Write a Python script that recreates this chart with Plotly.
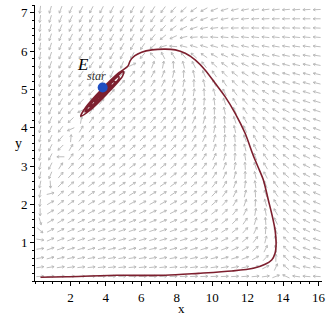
import numpy as np
import plotly.graph_objects as go

# ---------------- data ----------------
x_range = [0, 16.2]
y_range = [0, 7.2]
x_ticks = [2, 4, 6, 8, 10, 12, 14, 16]
y_ticks = [1, 2, 3, 4, 5, 6, 7]

# model behind the direction field (prey x, predator y)
prey_K, prey_a, prey_b = 14.0, 0.692, 1.0
pred_e, pred_A, pred_beta, pred_B = 0.07, 3.86, 0.5, 0.0

grid_nx, grid_ny = 28, 30

# trajectory
traj_x = [0.31, 1.81, 4.63, 7.35, 9.23, 11.11, 12.33, 12.99, 13.36, 13.55, 13.61, 13.55, 13.40, 13.17,
          12.89, 12.59, 12.31, 11.86, 11.30, 10.73, 10.17, 9.61, 9.04, 8.48, 7.92, 7.35, 6.60, 6.02,
          5.62, 5.38, 5.24,
          4.738, 3.763, 2.868, 2.580, 3.070, 4.045, 4.941,
          4.992, 4.614, 3.814, 3.070, 2.817, 3.194, 3.994, 4.738,
          4.721, 4.434, 3.839, 3.279, 3.087, 3.375, 3.969, 4.530,
          4.451, 4.259, 3.859, 3.487, 3.358, 3.549, 3.949, 4.321,
          4.214, 3.882, 3.594, 3.927, 3.904]
traj_y = [0.097, 0.112, 0.149, 0.149, 0.20, 0.261, 0.331, 0.436, 0.548, 0.723, 0.984, 1.331, 1.678, 2.113,
          2.635, 2.974, 3.287, 3.853, 4.375, 4.81, 5.16, 5.50, 5.77, 5.94, 6.03, 6.05, 6.03, 5.97,
          5.87, 5.75, 5.60,
          5.434, 5.001, 4.532, 4.300, 4.443, 4.876, 5.346,
          5.466, 5.338, 4.978, 4.594, 4.412, 4.537, 4.900, 5.283,
          5.333, 5.239, 4.967, 4.680, 4.545, 4.639, 4.910, 5.197,
          5.202, 5.140, 4.960, 4.766, 4.675, 4.738, 4.918, 5.111,
          5.090, 4.949, 4.787, 4.928, 4.939]

estar_x = [3.82]
estar_y = [5.05]

# ---------------- layout geometry ----------------
W, H = 330, 317
ml, mr, mt, mb = 34.5, 8, 5, 36
pw, ph = W - ml - mr, H - mt - mb
sx = pw / (x_range[1] - x_range[0])
sy = ph / (y_range[1] - y_range[0])


def field(x, y):
    dx = x * ((1 - x / prey_K) - prey_a * y / (1 + prey_b * x))
    dy = pred_e * y * (pred_A * x / (1 + pred_beta * x) - pred_B - y)
    return dx, dy


gx = x_range[0] + (np.arange(grid_nx) + 0.5) * (x_range[1] - x_range[0]) / grid_nx
gy = y_range[0] + (np.arange(grid_ny) + 0.5) * (y_range[1] - y_range[0]) / grid_ny
GX, GY = np.meshgrid(gx, gy)
U, V = field(GX, GY)
UP, VP = U * sx, V * sy
N = np.hypot(UP, VP)
N[N == 0] = 1
UP, VP = UP / N, VP / N

L = 7.5   # arrow length px
hl = 2.6  # head length px
ang = np.deg2rad(30)
ax_, ay_ = [], []
for cx, cy, ux, uy in zip(GX.ravel(), GY.ravel(), UP.ravel(), VP.ravel()):
    tx, ty = cx - ux * L / 2 / sx, cy - uy * L / 2 / sy
    hx, hy = cx + ux * L / 2 / sx, cy + uy * L / 2 / sy
    ax_ += [tx, hx, None]
    ay_ += [ty, hy, None]
    for s in (1, -1):
        ca, sa = np.cos(ang), s * np.sin(ang)
        bx = -(ux * ca - uy * sa)
        by = -(ux * sa + uy * ca)
        ax_ += [hx, hx + bx * hl / sx, None]
        ay_ += [hy, hy + by * hl / sy, None]

fig = go.Figure()
fig.add_trace(go.Scatter(x=ax_, y=ay_, mode="lines",
                         line=dict(color="#b5b5b5", width=0.9), hoverinfo="skip", showlegend=False))
fig.add_trace(go.Scatter(x=traj_x, y=traj_y, mode="lines",
                         line=dict(color="#7d1f2e", width=1.6, shape="spline", smoothing=0.8),
                         showlegend=False))
fig.add_trace(go.Scatter(x=estar_x, y=estar_y, mode="markers",
                         marker=dict(color="#1f4ec2", size=10), showlegend=False))

fig.add_annotation(x=2.70, y=5.64, text="<i>E</i>", showarrow=False,
                   font=dict(family="Liberation Serif", size=17, color="black"))
fig.add_annotation(x=3.49, y=5.36, text="<i>star</i>", showarrow=False,
                   font=dict(family="Liberation Serif", size=12, color="#333"))
fig.add_annotation(xref="paper", yref="paper", x=(181 - ml) / pw, y=-(308 - (H - mb)) / ph,
                   text="x", showarrow=False, yanchor="middle",
                   font=dict(family="Liberation Serif", size=13, color="black"))
fig.add_annotation(xref="paper", yref="paper", x=(12 - ml) / pw, y=((H - mb) - 143) / ph,
                   text="y", showarrow=False, yanchor="middle",
                   font=dict(family="Liberation Serif", size=14, color="black"))

axis_common = dict(showline=True, linecolor="black", linewidth=1, ticks="outside", ticklen=4,
                   tickcolor="black", showgrid=False, zeroline=False, automargin=False,
                   tickfont=dict(family="Liberation Serif", size=13, color="black"))
fig.update_xaxes(range=x_range, tickvals=x_ticks, **axis_common,
                 minor=dict(ticks="outside", ticklen=2, dtick=0.5, tickcolor="black"))
fig.update_yaxes(range=y_range, tickvals=y_ticks, **axis_common,
                 minor=dict(ticks="outside", ticklen=2, dtick=0.2, tickcolor="black"))
fig.update_layout(width=W, height=H, margin=dict(l=ml, r=mr, t=mt, b=mb),
                  plot_bgcolor="white", paper_bgcolor="white")
fig.write_html("out.html", config={"displayModeBar": False},
               post_script="document.body.style.margin='0';document.body.style.overflow='hidden';")
